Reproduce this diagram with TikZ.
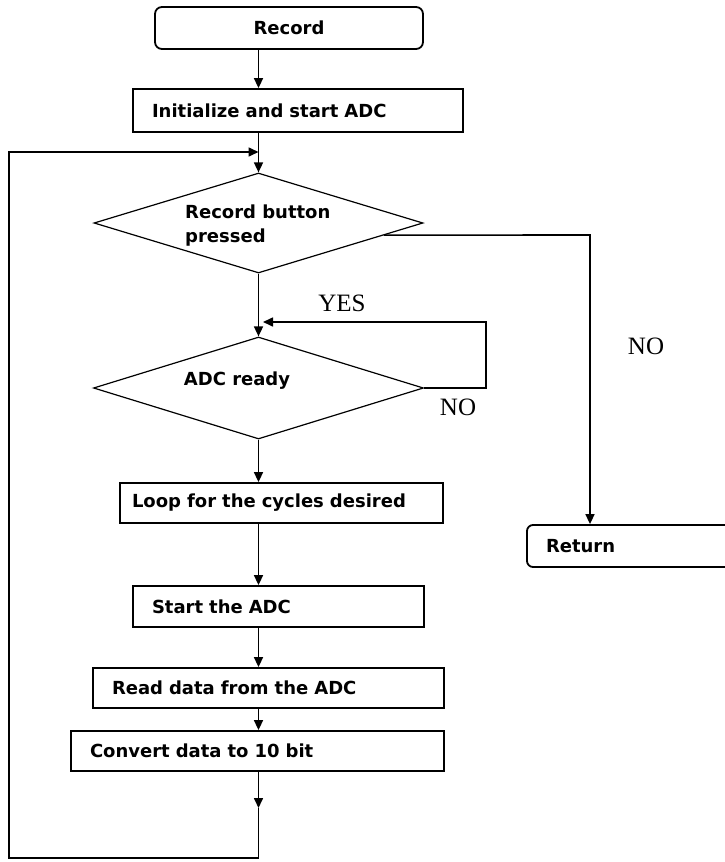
\documentclass[tikz,border=0pt]{standalone}
\usepackage{fontspec}
\setmainfont{DejaVu Sans}
\newfontfamily\lblfont{Liberation Serif}
\usetikzlibrary{arrows.meta,shapes.geometric,calc}
\begin{document}
\begin{tikzpicture}[x=1pt,y=-1pt,
  boxnode/.style={draw,line width=1.8pt,rectangle,inner ysep=0pt,
    font=\fontsize{18}{24}\selectfont\bfseries,align=left},
  decision/.style={draw,diamond,line width=1.2pt,inner sep=0pt},
  dtext/.style={font=\fontsize{18}{24}\selectfont\bfseries,align=left,inner sep=0pt},
  lbl/.style={font=\lblfont\fontsize{25}{25}\selectfont,inner sep=0pt},
  conn/.style={line width=1.6pt},
  arr/.style={conn,-{Triangle[width=9pt,length=10pt]}}
]
\clip (0,0) rectangle (725,862);
\fill[white] (0,0) rectangle (725,862);

% nodes
\node[boxnode,rounded corners=7pt,align=center,inner xsep=0pt,
  minimum width=268pt,minimum height=42pt] (rec) at (289,28) {Record};
\node[boxnode,inner xsep=19pt,text width=292pt,minimum height=43pt]
  (init) at (298,110.5) {Initialize and start ADC};
\node[decision,minimum width=329pt,minimum height=100pt] (d1) at (258.5,223) {};
\node[dtext,anchor=west] (d1t) at (185,226) {Record button\\pressed};
\node[decision,minimum width=330pt,minimum height=102pt] (d2) at (258.5,388) {};
\node[dtext] (d2t) at (237,381) {ADC ready};
\node[boxnode,inner xsep=12pt,text width=299pt,minimum height=40pt]
  (loop) at (281.5,503) {Loop for the cycles desired};
\node[boxnode,rounded corners=6pt,inner xsep=19pt,text width=195pt,minimum height=42pt]
  (ret) at (643.5,546) {Return};
\node[boxnode,inner xsep=19pt,text width=253pt,minimum height=41pt]
  (start) at (278.5,606.5) {Start the ADC};
\node[boxnode,inner xsep=19pt,text width=313pt,minimum height=40pt]
  (read) at (268.5,688) {Read data from the ADC};
\node[boxnode,inner xsep=19pt,text width=335pt,minimum height=40pt]
  (conv) at (257.5,751) {Convert data to 10 bit};

% labels
\node[lbl] (yes) at (342,303) {YES};
\node[lbl] (no1) at (458,407) {NO};
\node[lbl] (no2) at (646,346) {NO};

% helper coordinates
\coordinate (j1) at (258.5,152);
\coordinate (lt) at (9,152);
\coordinate (j2) at (263,322);
\coordinate (yr) at (486,322);
\coordinate (c1) at (258.5,808);
\coordinate (b1) at (258.5,858);
\coordinate (n1) at ($(d1.east)!0.24!(d1.south)$);
\coordinate (nr) at (590,235);

% connectors
\draw[arr] (rec.south -| d1.north) -- (init.north -| d1.north);
\draw[arr] (init.south -| d1.north) -- (d1.north);
\draw[arr] (d1.south) -- (d2.north);
\draw[arr] (d2.east) -| (yr) -- (j2);
\draw[arr] (n1) -- (nr) -- (ret.north -| nr);
\draw[arr] (d2.south) -- (d2.south |- loop.north);
\draw[arr] (loop.south -| d1.south) -- (start.north -| d1.south);
\draw[arr] (start.south -| d1.south) -- (read.north -| d1.south);
\draw[arr] (read.south -| d1.south) -- (conv.north -| d1.south);
\draw[arr] (conv.south -| d1.south) -- (c1);
\draw[arr] (c1) -- (b1) -| (lt) -- (j1);
\end{tikzpicture}
\end{document}
